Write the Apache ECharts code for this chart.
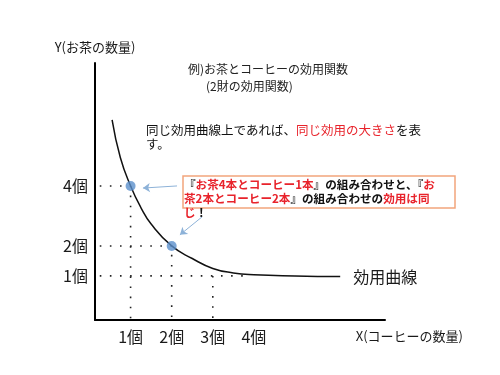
<!DOCTYPE html>
<html><head><meta charset="utf-8">
<script src="https://cdn.jsdelivr.net/npm/echarts@6/dist/echarts.min.js"></script>
<style>html,body{margin:0;padding:0;background:#fff}#c{width:500px;height:375px}</style>
</head><body><div id="c"></div>
<script>
// ---- data ----
const xTickValues = [1, 2, 3, 4];
const yTickValues = [1, 2, 4];
const tickUnit = '個';
const xAxisName = 'X(コーヒーの数量)';
const yAxisName = 'Y(お茶の数量)';
const curveName = '効用曲線';
const curveX = [0.55, 0.75, 1.0, 1.25, 1.5, 2.0, 2.5, 3.0, 3.5, 4.0, 5.0, 6.1];
const curveY = [6.2, 4.95, 4.0, 3.28, 2.73, 2.0, 1.58, 1.25, 1.1, 1.04, 1.0, 0.98];
const pointX = [1, 2];
const pointY = [4, 2];
const guideStartX = 0.25;
const guideY1EndX = 3.9;
const arrowFrom = [[2.13, 4.0], [2.74, 2.97]];
const arrowTo = [[1.30, 3.93], [2.20, 2.37]];
const xMin = 0.134, xMax = 7.19, yMin = -0.47, yMax = 8.1;
const titleLines = ['例)お茶とコーヒーの効用関数', '(2財の効用関数)'];
const noteSegs = [['k','同じ効用曲線上であれば、'],['r','同じ効用の大きさ'],['k','を表\nす。']];
const boxSegs = [['k','『'],['r','お茶4本とコーヒー1本'],['k','』の組み合わせと、『'],['r','お\n茶2本とコーヒー2本'],['k','』の組み合わせの'],['r','効用は同\nじ'],['k','！']];

const FONT = '"Noto Sans CJK JP", "Noto Sans", sans-serif';
const RED = '#e8232b', INK = '#1a1a1a';
function rich(segs){return segs.map(s=>s[1].split('\n').map(t=>t?'{'+s[0]+'|'+t+'}':'').join('\n')).join('');}

const chart = echarts.init(document.getElementById('c'), null, {renderer:'canvas'});
const dotted = {color:'#222', width:1.6, type:[1.6, 8.5]};
function guide(data){return {type:'line', data, showSymbol:false, symbol:'none', silent:true, animation:false, lineStyle:dotted, z:1};}

chart.setOption({
  animation:false,
  textStyle:{fontFamily:FONT},
  grid:{left:95, right:115, top:63, bottom:55},
  xAxis:{type:'value', min:xMin, max:xMax, splitLine:{show:false},
    axisLine:{show:true, onZero:false, lineStyle:{color:'#000', width:2}},
    axisTick:{show:false},
    axisLabel:{customValues:xTickValues, formatter:v=>v+tickUnit, fontSize:16, color:INK, margin:9, fontFamily:FONT},
    name:xAxisName, nameLocation:'end', nameGap:78,
    nameTextStyle:{align:'right', verticalAlign:'top', padding:[10,0,0,0], fontSize:13, color:INK, fontFamily:FONT}},
  yAxis:{type:'value', min:yMin, max:yMax, splitLine:{show:false},
    axisLine:{show:true, onZero:false, lineStyle:{color:'#000', width:2}},
    axisTick:{show:false},
    axisLabel:{customValues:yTickValues, formatter:v=>v+tickUnit, fontSize:16, color:INK, margin:7, fontFamily:FONT},
    name:yAxisName, nameLocation:'end', nameGap:9,
    nameTextStyle:{align:'center', fontSize:13, color:INK, fontFamily:FONT}},
  series:[
    guide([[guideStartX,pointY[0]],[pointX[0],pointY[0]],[pointX[0],yMin]]),
    guide([[guideStartX,pointY[1]],[pointX[1],pointY[1]],[pointX[1],yMin]]),
    guide([[guideStartX,yTickValues[0]],[guideY1EndX,yTickValues[0]]]),
    guide([[xTickValues[2],yTickValues[0]],[xTickValues[2],yMin]]),
    {type:'line', name:curveName, data:curveX.map((x,i)=>[x,curveY[i]]), smooth:0.5, showSymbol:false, symbol:'none',
      lineStyle:{color:'#111', width:1.5}, z:3,
      endLabel:{show:true, formatter:curveName, distance:13, fontSize:16, color:INK, fontFamily:FONT}},
    {type:'scatter', data:pointX.map((x,i)=>[x,pointY[i]]), symbolSize:10, itemStyle:{color:'#5b90cc'}, z:5,
      markLine:{silent:true, symbol:['none','arrow'], symbolSize:7, label:{show:false},
        lineStyle:{color:'#8db2d8', width:1, type:'solid'},
        data:arrowFrom.map((f,i)=>[{coord:f},{coord:arrowTo[i]}])}}
  ],
  graphic:[
    {type:'text', left:188, top:63, style:{text:titleLines[0], font:'12px '+FONT, fill:'#222'}},
    {type:'text', left:206, top:80, style:{text:titleLines[1], font:'12px '+FONT, fill:'#222'}},
    {type:'text', left:146, top:123, style:{text:rich(noteSegs), lineHeight:14, font:'12.5px '+FONT,
      rich:{k:{fill:'#111', fontSize:12.5, fontFamily:FONT, lineHeight:14}, r:{fill:RED, fontSize:12.5, fontFamily:FONT, lineHeight:14}}}},
    {type:'rect', shape:{x:183, y:176, width:272, height:32}, style:{fill:'#fff', stroke:'#f2a57c', lineWidth:1.5}, z:10},
    {type:'text', left:184, top:178, z:11, style:{text:rich(boxSegs), lineHeight:14, font:'bold 11.6px '+FONT,
      rich:{k:{fill:'#111', fontSize:11.6, fontWeight:'bold', fontFamily:FONT, lineHeight:14}, r:{fill:RED, fontSize:11.6, fontWeight:'bold', fontFamily:FONT, lineHeight:14}}}}
  ]
});
</script></body></html>
